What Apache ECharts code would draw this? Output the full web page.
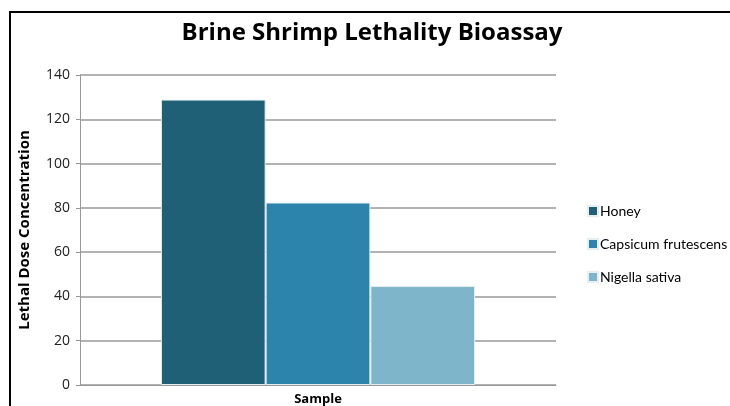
<!DOCTYPE html>
<html>
<head>
<meta charset="utf-8">
<script src="https://cdn.jsdelivr.net/npm/echarts@6/dist/echarts.min.js"></script>
<style>
  html, body { margin: 0; padding: 0; background: #fff; }
  #chart { width: 730px; height: 406px; }
</style>
</head>
<body>
<div id="chart"></div>
<script>
// Lethal dose concentration for each sample extract
const categories = ['Sample'];
const seriesNames = ['Honey', 'Capsicum frutescens', 'Nigella sativa'];
const honey = [128.9];
const capsicum = [82.4];
const nigella = [44.7];
const yTicks = [0, 20, 40, 60, 80, 100, 120, 140];

const colors = ['#206077', '#2c83ab', '#7fb5cb'];
const values = [honey, capsicum, nigella];

const chart = echarts.init(document.getElementById('chart'));
chart.setOption({
  animation: false,
  title: {
    text: 'Brine Shrimp Lethality Bioassay',
    left: 367,
    textAlign: 'center',
    top: 16,
    textStyle: { fontFamily: 'Open Sans', fontWeight: 'bold', fontSize: 24, color: '#000' }
  },
  graphic: [{
    type: 'rect',
    shape: { x: 10, y: 12, width: 740, height: 420 },
    style: { fill: 'none', stroke: '#000', lineWidth: 2 },
    silent: true
  }],
  legend: {
    orient: 'vertical',
    left: 582,
    top: 199,
    itemGap: 19,
    itemWidth: 10,
    itemHeight: 10,
    icon: 'rect',
    data: seriesNames,
    textStyle: { fontFamily: 'Lato', fontSize: 14, color: '#000', padding: [0, 0, 0, -3] }
  },
  grid: { left: 80, right: 174, top: 75, bottom: 21 },
  xAxis: {
    type: 'category',
    data: categories,
    axisLine: { lineStyle: { color: '#999', width: 1 } },
    axisTick: { show: false },
    axisLabel: {
      margin: 8,
      fontFamily: 'Open Sans', fontWeight: 'bold', fontSize: 13, color: '#000'
    }
  },
  yAxis: {
    type: 'value',
    min: 0,
    max: 140,
    interval: 20,
    name: 'Lethal Dose Concentration',
    nameLocation: 'middle',
    nameGap: 48,
    nameRotate: 90,
    nameTextStyle: { fontFamily: 'Open Sans', fontWeight: 'bold', fontSize: 15, color: '#000' },
    axisLine: { show: true, lineStyle: { color: '#999' } },
    axisTick: { show: true, inside: false, length: 4, lineStyle: { color: '#999' } },
    axisLabel: {
      margin: 10,
      fontFamily: 'Open Sans', fontSize: 14, color: '#222',
      formatter: v => (yTicks.includes(v) ? String(v) : '')
    },
    splitLine: { lineStyle: { color: '#999', width: 1.5 } }
  },
  series: seriesNames.map((name, i) => ({
    name,
    type: 'bar',
    data: values[i],
    barGap: '0%',
    barCategoryGap: '34%',
    itemStyle: { color: colors[i], borderColor: '#e6eef2', borderWidth: 1 }
  }))
});
</script>
</body>
</html>
